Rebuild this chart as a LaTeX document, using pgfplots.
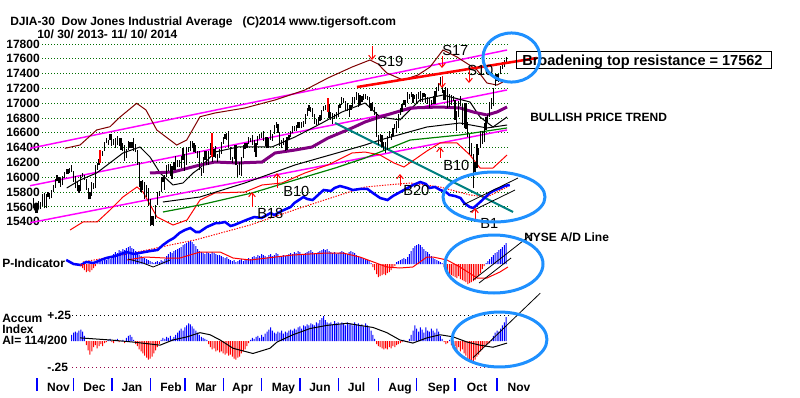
\documentclass[border=0pt]{standalone}
\usepackage{fontspec}
\setmainfont{Liberation Sans}
\usepackage{pgfplots}
\pgfplotsset{compat=1.18}
\usepackage{pgfplotstable}
\usetikzlibrary{arrows.meta}
\definecolor{maroon}{RGB}{128,0,0}
\definecolor{purp}{RGB}{128,0,128}
\definecolor{tealc}{RGB}{0,128,128}
\definecolor{dgreen}{RGB}{0,128,0}
\definecolor{mag}{RGB}{255,0,255}
\definecolor{circ}{RGB}{30,144,255}
\definecolor{gridg}{RGB}{0,110,0}
\definecolor{pinkd}{RGB}{150,0,70}
\newcommand{\ft}{\fontsize{9}{10}\selectfont\bfseries}
\newcommand{\fs}{\fontsize{11}{12}\selectfont}

\pgfplotstableread[row sep=\\]{
h l\\
15720 15590\\ 15650 15520\\ 15650 15520\\ 15680 15590\\ 15660 15570\\ 15780 15610\\ 15790 15580\\ 15780 15580\\ 15800 15740\\ 15790 15700\\
15830 15720\\ 15890 15800\\ 15970 15860\\ 16030 15950\\ 16000 15920\\ 15990 15870\\ 16020 15890\\ 16070 15990\\ 16110 16040\\ 16110 16050\\
16120 16060\\ 16170 16070\\ 16090 15940\\ 16020 15850\\ 15940 15810\\ 15890 15790\\ 16030 15820\\ 16060 16000\\ 16030 15960\\ 15980 15830\\
15850 15700\\ 15800 15700\\ 15940 15750\\ 15920 15840\\ 16170 15850\\ 16190 16100\\ 16250 16170\\ 16300 16220\\ 16360 16290\\ 16480 16360\\
16530 16460\\ 16510 16440\\ 16590 16500\\ 16580 16420\\ 16520 16430\\ 16530 16400\\ 16560 16430\\ 16530 16420\\ 16530 16370\\ 16460 16360\\
16440 16220\\ 16380 16260\\ 16490 16370\\ 16480 16400\\ 16480 16400\\ 16530 16350\\ 16450 16340\\ 16370 16170\\ 16200 15870\\ 15950 15800\\
15960 15830\\ 15930 15700\\ 15900 15740\\ 15850 15610\\ 15710 15340\\ 15480 15350\\ 15480 15340\\ 15630 15440\\ 15800 15630\\ 15820 15750\\
16000 15800\\ 16010 15930\\ 16030 15830\\ 16160 16000\\ 16180 16090\\ 16180 16020\\ 16150 15970\\ 16210 16100\\ 16290 16100\\ 16240 16140\\
16240 16140\\ 16290 16130\\ 16400 16230\\ 16320 16090\\ 16410 16170\\ 16410 16340\\ 16490 16350\\ 16490 16390\\ 16460 16340\\ 16440 16330\\
16350 16260\\ 16360 16100\\ 16130 16020\\ 16270 16060\\ 16350 16240\\ 16360 16160\\ 16350 16170\\ 16460 16300\\ 16310 16200\\ 16380 16270\\
16420 16260\\ 16310 16200\\ 16380 16260\\ 16480 16320\\ 16540 16450\\ 16580 16520\\ 16600 16510\\ 16630 16390\\ 16410 16230\\ 16270 16190\\
16440 16250\\ 16440 16160\\ 16170 16010\\ 16210 16030\\ 16280 16020\\ 16430 16260\\ 16460 16380\\ 16460 16400\\ 16540 16450\\ 16530 16480\\
16570 16440\\ 16500 16340\\ 16460 16280\\ 16560 16440\\ 16590 16520\\ 16600 16530\\ 16630 16490\\ 16540 16420\\ 16540 16390\\ 16530 16400\\
16640 16510\\ 16590 16490\\ 16710 16580\\ 16740 16670\\ 16720 16600\\ 16610 16420\\ 16500 16390\\ 16530 16440\\ 16510 16360\\ 16540 16370\\
16570 16500\\ 16620 16540\\ 16690 16600\\ 16690 16620\\ 16710 16630\\ 16740 16660\\ 16750 16670\\ 16750 16660\\ 16760 16680\\ 16850 16720\\
16940 16830\\ 16970 16900\\ 16950 16880\\ 16940 16820\\ 16850 16720\\ 16790 16710\\ 16810 16710\\ 16840 16760\\ 16910 16780\\ 16960 16890\\
16980 16910\\ 16970 16910\\ 16990 16800\\ 16880 16780\\ 16870 16720\\ 16860 16790\\ 16880 16800\\ 16980 16820\\ 16990 16940\\ 17080 16980\\
17070 17000\\ 17030 16900\\ 17000 16900\\ 16980 16820\\ 16980 16910\\ 17080 16950\\ 17090 16990\\ 17150 17050\\ 17140 16950\\ 17110 16980\\
17100 17010\\ 17120 17050\\ 17120 17060\\ 17100 17040\\ 17080 16930\\ 17000 16900\\ 17010 16910\\ 16950 16840\\ 16880 16550\\ 16570 16430\\
16590 16470\\ 16570 16410\\ 16480 16370\\ 16480 16330\\ 16560 16370\\ 16620 16550\\ 16580 16510\\ 16670 16560\\ 16720 16650\\ 16760 16600\\
16850 16660\\ 16940 16840\\ 16990 16880\\ 17050 16970\\ 17050 16950\\ 17150 17000\\ 17130 17060\\ 17150 17090\\ 17120 17000\\ 17110 17060\\
17120 17000\\ 17150 17060\\ 17160 17020\\ 17140 17020\\ 17140 17080\\ 17120 17000\\ 17080 16990\\ 17070 16940\\ 17050 16970\\ 17100 16990\\
17160 16990\\ 17220 17100\\ 17270 17160\\ 17350 17250\\ 17280 17140\\ 17180 17050\\ 17220 17040\\ 17210 16940\\ 17130 16950\\ 17110 16970\\
17100 17030\\ 17050 16780\\ 16900 16630\\ 17030 16810\\ 17100 16960\\ 16990 16710\\ 17000 16660\\ 17000 16650\\ 16750 16540\\ 16580 16320\\
16460 16290\\ 16320 15850\\ 16200 16070\\ 16450 16120\\ 16400 16300\\ 16620 16400\\ 16620 16450\\ 16730 16470\\ 16810 16640\\ 16840 16750\\
17010 16820\\ 17070 16920\\ 17200 16960\\ 17400 17230\\ 17400 17300\\ 17400 17290\\ 17500 17390\\ 17560 17460\\ 17580 17490\\ 17620 17560\\
}\pricedata

\pgfplotstableread[row sep=\\]{
x p a\\
21 nan 6\\ 22 nan 8\\ 23 nan 9\\ 24 nan 8\\ 25 nan 10\\ 26 -2 11\\ 27 -4 9\\ 28 -6 5\\ 29 -8 -4\\ 30 -7 -9\\
31 -8 -13\\ 32 -6 -10\\ 33 -4 -6\\ 34 -2 -4\\ 35 2 -7\\ 36 3 -5\\ 37 4 -3\\ 38 3 -5\\ 39 5 -2\\ 40 4 -1\\
41 6 1\\ 42 5 2\\ 43 8 -1\\ 44 10 -2\\ 45 12 1\\ 46 11 2\\ 47 14 -1\\ 48 13 0\\ 49 15 1\\ 50 14 -2\\
51 16 3\\ 52 17 5\\ 53 18 6\\ 54 16 4\\ 55 15 1\\ 56 13 -3\\ 57 11 -5\\ 58 9 -8\\ 59 8 -10\\ 60 7 -12\\
61 6 -14\\ 62 5 -16\\ 63 4 -18\\ 64 3 -17\\ 65 2 -15\\ 66 1 -12\\ 67 2 -9\\ 68 3 -6\\ 69 2 -3\\ 70 4 1\\
71 3 3\\ 72 5 2\\ 73 8 4\\ 74 10 3\\ 75 12 5\\ 76 11 2\\ 77 13 4\\ 78 14 6\\ 79 15 8\\ 80 16 10\\
81 17 12\\ 82 19 10\\ 83 20 13\\ 84 21 15\\ 85 22 17\\ 86 23 16\\ 87 22 14\\ 88 20 12\\ 89 18 10\\ 90 15 8\\
91 13 6\\ 92 12 4\\ 93 11 3\\ 94 10 2\\ 95 12 1\\ 96 11 -3\\ 97 10 -6\\ 98 12 -8\\ 99 11 -7\\ 100 10 -10\\
101 9 -9\\ 102 9 -11\\ 103 8 -10\\ 104 7 -12\\ 105 6 -13\\ 106 7 -12\\ 107 5 -14\\ 108 4 -13\\ 109 3 -15\\ 110 4 -17\\
111 2 -18\\ 112 3 -16\\ 113 4 -15\\ 114 5 -12\\ 115 3 -10\\ 116 4 -8\\ 117 5 -5\\ 118 6 -2\\ 119 5 1\\ 120 7 3\\
121 8 2\\ 122 7 4\\ 123 9 5\\ 124 8 3\\ 125 10 6\\ 126 9 4\\ 127 8 7\\ 128 7 9\\ 129 9 11\\ 130 10 13\\
131 8 10\\ 132 9 8\\ 133 11 7\\ 134 10 9\\ 135 8 8\\ 136 7 10\\ 137 9 7\\ 138 8 9\\ 139 9 8\\ 140 10 10\\
141 11 11\\ 142 10 10\\ 143 12 12\\ 144 11 11\\ 145 13 13\\ 146 12 14\\ 147 10 12\\ 148 9 15\\ 149 11 14\\ 150 12 16\\
151 13 15\\ 152 14 17\\ 153 12 16\\ 154 10 15\\ 155 11 18\\ 156 12 17\\ 157 13 20\\ 158 14 22\\ 159 15 24\\ 160 14 20\\
161 15 18\\ 162 13 17\\ 163 12 18\\ 164 11 16\\ 165 12 19\\ 166 10 17\\ 167 11 18\\ 168 12 16\\ 169 13 18\\ 170 12 17\\
171 11 15\\ 172 10 18\\ 173 12 16\\ 174 13 17\\ 175 12 15\\ 176 11 18\\ 177 9 16\\ 178 8 17\\ 179 7 15\\ 180 6 16\\
181 5 14\\ 182 5 17\\ 183 4 15\\ 184 3 13\\ 185 1 10\\ 186 -3 6\\ 187 -6 2\\ 188 -10 -3\\ 189 -13 -5\\ 190 -12 -6\\
191 -11 -7\\ 192 -10 -8\\ 193 -11 -7\\ 194 -9 -8\\ 195 -8 -6\\ 196 -6 -7\\ 197 -4 -5\\ 198 -2 -6\\ 199 2 -4\\ 200 3 -3\\
201 4 -2\\ 202 5 -1\\ 203 6 1\\ 204 5 0\\ 205 7 -1\\ 206 10 2\\ 207 13 6\\ 208 16 10\\ 209 18 15\\ 210 19 12\\
211 20 9\\ 212 19 13\\ 213 17 11\\ 214 15 8\\ 215 13 13\\ 216 12 10\\ 217 10 9\\ 218 8 12\\ 219 6 10\\ 220 5 8\\
221 4 12\\ 222 3 9\\ 223 2 5\\ 224 1 2\\ 225 -3 -1\\ 226 -6 -3\\ 227 -9 -2\\ 228 -10 1\\ 229 -11 -4\\ 230 -12 -7\\
231 -13 -5\\ 232 -14 -9\\ 233 -12 -6\\ 234 -15 -10\\ 235 -16 -8\\ 236 -17 -12\\ 237 -18 -14\\ 238 -20 -17\\ 239 -19 -19\\ 240 -18 -21\\
241 -17 -20\\ 242 -16 -18\\ 243 -14 -15\\ 244 -12 -13\\ 245 -9 -10\\ 246 -5 -8\\ 247 -2 -6\\ 248 1 -4\\ 249 3 -3\\ 250 5 -2\\
251 7 1\\ 252 9 5\\ 253 11 8\\ 254 12 10\\ 255 14 9\\ 256 15 12\\ 257 17 15\\ 258 19 18\\ 259 21 23\\
}\ind

\begin{document}
\begin{tikzpicture}
\fill[white] (0,0) rectangle (600pt,-297.75pt);
\path[use as bounding box] (0,0) rectangle (600pt,-297.75pt);

% ---------------- price panel ----------------
\begin{axis}[at={(25.0125pt,-33pt)}, anchor=north west, scale only axis,
  width=355.95pt, height=133.275pt, xmin=0, xmax=260, ymin=15400, ymax=17800,
  clip=false, axis line style={draw=none}, xtick=\empty,
  ytick={15400,15600,15800,16000,16200,16400,16600,16800,17000,17200,17400,17600,17800}, major tick length=0pt,
  scaled y ticks=false,
  yticklabel style={font=\ft, anchor=east, inner sep=0pt, xshift=5pt},
  /pgf/number format/1000 sep={}, /pgf/number format/assume math mode=true]
\pgfplotsinvokeforeach{15400,15600,15800,16000,16200,16400,16600,16800,17000,17200,17400,17600,17800}{
  \draw[gridg, line width=0.75pt, dash pattern=on 0.75pt off 1.5pt] (axis cs:4.8,#1) -- (axis cs:261,#1);}
% magenta channel
\addplot[mag, line width=1.1pt] coordinates {(-1.8,16391) (259.5,17719)};
\addplot[mag, line width=1.1pt] coordinates {(-1.8,15886) (259.5,17179)};
\addplot[mag, line width=1.1pt] coordinates {(-1.8,15386) (259.5,16639)};
% upper band
\addplot[maroon, line width=0.75pt] coordinates {(17.3,16391) (25.6,16436) (34.7,16639) (42.0,16683) (47.5,16814) (56.6,16999) (61.7,16909) (67.6,16639) (78.5,16436) (84.0,16503) (91.3,16818) (99.5,16868) (115.9,16936) (132.4,17044) (148.8,17179) (161.4,17341) (174.6,17489) (184.4,17584) (188.8,17530) (193.7,17408) (202.5,17314) (210.7,17381) (217.3,17489) (224.4,17719) (232.1,17624) (243.1,17449) (248.5,17273) (254.0,17246) (257.3,17287)};
% lower band
\addplot[red, line width=0.75pt] coordinates {(20.1,15288) (27.2,15396) (34.9,15396) (42.0,15558) (49.1,15734) (56.8,15869) (60.1,15801) (67.7,15464) (76.5,15355) (84.2,15423) (91.3,15693) (99.5,15788) (115.9,15801) (125.3,15896) (136.2,15923) (148.8,16058) (161.4,16166) (174.6,16328) (181.7,16341) (189.9,16301) (197.6,16193) (203.0,16139) (208.5,16233) (215.6,16355) (222.8,16463) (232.1,16463) (239.2,16301) (244.7,16125) (251.8,16125) (259.5,16301)};
% lower slow average and green average
\addplot[black, line width=0.75pt] coordinates {(71.0,15666) (91.3,15734) (115.9,15923) (143.3,16166) (181.7,16436) (189.9,16503) (215.6,16679) (233.7,16733) (248.5,16666) (259.5,16706)};
\addplot[dgreen, line width=0.9pt] coordinates {(71.0,15531) (91.3,15626) (119.8,15788) (143.3,15963) (165.3,16125) (181.7,16260) (206.4,16503) (233.7,16571) (259.5,16666)};
% short average
\addplot[black, line width=0.75pt] coordinates {(18.3,15855) (25.6,15963) (34.7,16058) (49.1,16328) (58.4,16409) (63.9,16274) (69.4,16058) (76.5,15896) (82.0,15923) (87.5,16058) (91.3,16125) (99.5,16341) (112.1,16409) (130.7,16409) (143.3,16544) (158.1,16733) (169.1,16882) (181.7,17003) (189.9,16814) (200.8,16774) (211.8,17044) (224.4,17111) (239.2,17017) (244.7,16814) (251.8,16679) (259.5,16814)};
% purple average
\addplot[purp, line width=2.25pt] coordinates {(63.9,16058) (76.5,16071) (91.3,16166) (99.5,16206) (112.1,16193) (125.3,16206) (132.4,16328) (143.3,16368) (152.7,16409) (161.4,16530) (174.6,16666) (181.7,16747) (189.9,16814) (206.4,16936) (222.8,16949) (233.7,16936) (240.9,16882) (248.5,16841) (254.0,16882) (259.5,16949)};
% teal falling trend line
\addplot[tealc, line width=1.5pt] coordinates {(165.3,16733) (262.8,15531)};
% price bars
\addplot[draw=none, mark=none, forget plot, error bars/.cd, y dir=plus, y explicit, error mark=none,
  error bar style={draw=black, line width=0.9pt}]
  table[x expr=\coordindex, y=l, y error expr=\thisrow{h}-\thisrow{l}] {\pricedata};
% broadening top resistance
\addplot[red, line width=1.9pt] coordinates {(177.3,17219) (275.9,17611)};
% NYSE A/D line and its average
\addplot[red, line width=0.75pt, dash pattern=on 1pt off 1pt] coordinates {(27.2,14856) (54.6,14977) (74.9,15085) (88.6,15153) (118.7,15355) (146.1,15585) (168.0,15761) (181.7,15869) (206.4,15923) (222.8,15869) (239.2,15761) (248.5,15734) (259.5,15869)};
\addplot[blue, line width=1.9pt] coordinates {(18,14883) (22,14829) (26,14815) (29,14856) (33,14842) (37,14883) (40,14910) (45,14937) (51,14991) (55,14964) (58,14977) (64,15004) (68,15018) (71,15085) (74,15139) (77,15180) (80,15247) (83,15288) (86,15315) (89,15261) (91,15261) (95,15328) (100,15382) (102,15382) (105,15396) (108,15342) (110,15355) (114,15396) (118,15436) (121,15463) (125,15450) (130,15517) (132,15490) (136,15544) (141,15599) (143,15653) (148,15734) (150,15707) (153,15693) (156,15761) (159,15828) (163,15815) (165,15855) (168,15882) (172,15855) (175,15828) (179,15842) (183,15842) (186,15788) (190,15720) (194,15693) (197,15747) (201,15801) (205,15855) (208,15896) (212,15936) (215,15909) (217,15855) (220,15869) (223,15828) (226,15801) (228,15761) (231,15747) (234,15720) (236,15653) (239,15599) (241,15585) (243,15626) (246,15693) (250,15788) (253,15828) (256,15855) (258,15882) (261,15896)};
\addplot[black, line width=0.6pt] coordinates {(235.4,15626) (265.5,15990)};
\addplot[black, line width=0.6pt] coordinates {(239.2,15531) (263.9,15828)};
\end{axis}

% ---------------- P-Indicator ----------------
\begin{axis}[at={(25.0125pt,-175.5pt)}, anchor=north west, scale only axis,
  width=355.95pt, height=45pt, xmin=0, xmax=260, ymin=-30, ymax=30,
  clip=false, hide axis]
\addplot[ybar, bar width=0.75pt, bar shift=0pt, fill=blue, draw=none, restrict y to domain=0:100] table[x=x, y=p] {\ind};
\addplot[ybar, bar width=0.75pt, bar shift=0pt, fill=red, draw=none, restrict y to domain=-100:0] table[x=x, y=p] {\ind};
\addplot[red, line width=0.75pt] coordinates {(51.3,4) (61.2,7) (72.1,6) (80.3,6) (91.3,12) (102.3,12) (109.4,6) (118.7,4) (128,6) (142.2,9) (160.8,11) (169.6,11) (178.9,7) (193.7,-3) (200.8,-4) (207.9,-3) (215.6,7) (218.9,7) (226.6,4) (233.7,-3) (243.1,-14) (248.5,-14) (255.6,-8) (260,-3)};
\addplot[black, line width=0.6pt] coordinates {(51.9,5) (60.1,1) (65.6,-3) (71.0,1) (74.9,4)};
\addplot[black, line width=0.6pt] coordinates {(240.9,-16) (273.8,31)};
\addplot[black, line width=0.6pt] coordinates {(244.2,-19) (261.7,6)};
\end{axis}

% ---------------- Accumulation Index ----------------
\begin{axis}[at={(25.0125pt,-236.25pt)}, anchor=north west, scale only axis,
  width=355.95pt, height=39pt, xmin=0, xmax=260, ymin=-25, ymax=25,
  clip=false, hide axis]
\draw[black, line width=0.75pt, dash pattern=on 0.75pt off 2.25pt] (axis cs:21.2,25) -- (axis cs:261,25);
\draw[pinkd, line width=0.75pt, dash pattern=on 0.75pt off 2.25pt] (axis cs:21.2,-25) -- (axis cs:261,-25);
\addplot[ybar, bar width=0.75pt, bar shift=0pt, fill=blue, draw=none, restrict y to domain=0:100] table[x=x, y=a] {\ind};
\addplot[ybar, bar width=0.75pt, bar shift=0pt, fill=red, draw=none, restrict y to domain=-100:0] table[x=x, y=a] {\ind};
\addplot[black, line width=0.75pt] coordinates {(25.6,3) (42,1) (54.6,-1) (69.4,-4) (76.5,1) (84.2,4) (91.3,8) (96.8,6) (102.3,1) (109.4,-7) (120.3,-12) (129.6,-7) (133.5,-1) (142.2,6) (151.6,12) (160.8,15) (171.8,17) (178.9,15) (186.1,13) (193.7,8) (200.8,1) (207.9,-2) (215.6,3) (222.8,6) (229.9,4) (237.6,-1) (244.7,-4) (251.8,-6) (259.5,-2)};
\addplot[black, line width=0.6pt] coordinates {(240.9,-16) (277.7,46)};
\end{axis}

% ---------------- months ----------------
\begin{axis}[at={(25.0125pt,-283.5pt)}, anchor=north west, scale only axis,
  width=383.33pt, height=9.75pt, xmin=0, xmax=280, ymin=0, ymax=1,
  axis x line*=bottom, axis y line=none, axis line style={draw=none},
  tick align=inside, major tick length=9.75pt,
  xtick={2,22,43,64,83,104,125,146,167,189,210,231,254}, xticklabels={},
  xtick style={blue, line width=1pt},
  extra x ticks={13.78,33.5,54.04,75.4,94.58,114.58,137.04,157.03,177.03,200.86,222.22,243.04,266.05},
  extra x tick labels={Nov,Dec,Jan,Feb,Mar,Apr,May,Jun,Jul,Aug,Sep,Oct,Nov},
  extra x tick style={major tick length=0pt},
  xticklabel style={font=\ft, anchor=base, inner sep=0pt}]
\end{axis}

% ---------------- annotations ----------------
\begin{scope}[x=0.75pt, y=-0.75pt]
\node[anchor=base west, inner sep=0pt, font=\ft] at (10,25) {DJIA-30\ \ Dow Jones Industrial Average\ \ \ (C)2014 www.tigersoft.com};
\node[anchor=base west, inner sep=0pt, font=\ft] at (37,38) {10/ 30/ 2013- 11/ 10/ 2014};
\node[anchor=base west, inner sep=0pt, font=\ft] at (2,267) {P-Indicator};
\node[anchor=base west, inner sep=0pt, font=\ft] at (2,322) {Accum};
\node[anchor=base west, inner sep=0pt, font=\ft] at (2,333) {Index};
\node[anchor=base west, inner sep=0pt, font=\ft] at (2,344) {AI= 114/200};
\node[anchor=base west, inner sep=0pt, font=\ft] at (47,319) {+.25};
\node[anchor=base west, inner sep=0pt, font=\ft] at (47,371) {-.25};
% signal labels
\node[anchor=base west, inner sep=0pt, font=\fs] at (377,66) {S19};
\node[anchor=base west, inner sep=0pt, font=\fs] at (442,55) {S17};
\node[anchor=base west, inner sep=0pt, font=\fs] at (467,75) {S10};
\node[anchor=base west, inner sep=0pt, font=\fs] at (443,170) {B10};
\node[anchor=base west, inner sep=0pt, font=\fs] at (403,195) {B20};
\node[anchor=base west, inner sep=0pt, font=\fs] at (283,196) {B10};
\node[anchor=base west, inner sep=0pt, font=\fs] at (257,218) {B18};
\node[anchor=base west, inner sep=0pt, font=\fs] at (480,228) {B1};
% arrows
\begin{scope}[red, line width=0.75pt, -{Straight Barb[length=3pt,width=5pt]}]
\draw (372,46) -- (372,60);
\draw (442,56) -- (442,68);
\draw (442,76) -- (442,88);
\draw (469,70) -- (469,83);
\draw (277,188) -- (277,173);
\draw (252,207) -- (252,192);
\draw (400,186) -- (400,174);
\draw (440,158) -- (440,147);
\draw (475,221) -- (475,208);
\end{scope}
\draw[red, line width=1pt] (100,150) -- (100,163);
\draw[red, line width=1pt] (212,133) -- (212,157);
\draw[red, line width=1pt] (328,98) -- (328,112);
% right side texts
\draw[black, line width=0.75pt] (516.7,51) rectangle (771.7,68.3);
\node[anchor=base west, inner sep=0pt, font=\fontsize{10.9}{12}\selectfont\bfseries] at (522,65) {Broadening top resistance = 17562};
\node[anchor=base west, inner sep=0pt, font=\ft] at (530,121.5) {BULLISH PRICE TREND};
\node[anchor=base west, inner sep=0pt, font=\ft] at (524,241.5) {NYSE A/D Line};
% circles
\begin{scope}[circ, line width=2.25pt]
\draw (511.5,57.5) ellipse [x radius=21.4pt, y radius=18.4pt];
\draw (494,197) ellipse [x radius=38.25pt, y radius=18.75pt];
\draw (494,264) ellipse [x radius=36.75pt, y radius=21.75pt];
\draw (499.5,339.5) ellipse [x radius=35.6pt, y radius=20.6pt];
\end{scope}
\end{scope}
\end{tikzpicture}
\end{document}
